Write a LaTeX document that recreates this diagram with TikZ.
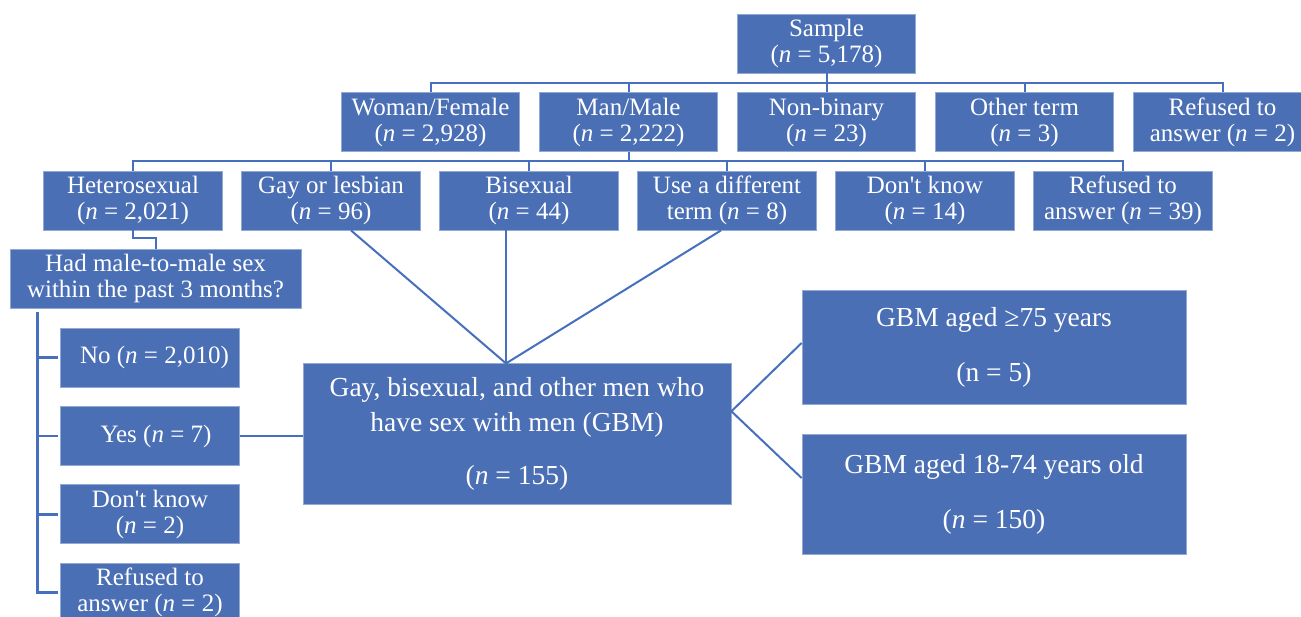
\documentclass[tikz,border=0pt]{standalone}
\usepackage{fontspec}
\setmainfont{Liberation Serif}[Ligatures=TeXOff]
\usetikzlibrary{calc}
\definecolor{boxblue}{RGB}{74,111,181}
\definecolor{lineblue}{RGB}{70,112,190}
\begin{document}
\begin{tikzpicture}[x=1pt,y=-1pt,
 box/.style={rectangle,fill=boxblue,draw=boxblue!60!white,line width=0.8pt,text=white,align=center,inner sep=0pt,font=\fontsize{25}{26}\selectfont},
 sbox/.style={box,minimum width=178.5pt,minimum height=59pt},
 lbox/.style={box,minimum width=179pt,minimum height=59pt},
 bigbox/.style={box,font=\fontsize{27.5}{35}\selectfont},
 conn/.style={draw=lineblue,line width=2pt},
 thickconn/.style={draw=lineblue,line width=2.6pt}]
\useasboundingbox (0,0) rectangle (1301,617);
\fill[white] (0,0) rectangle (1301,617);

% level 1
\node[sbox] (sample) at (826.5,43.5) {Sample\\(\textit{n} = 5,178)};
% level 2
\node[sbox] (woman) at (430.5,122) {Woman/Female\\(\textit{n} = 2,928)};
\node[sbox] (man) at (628.5,122) {Man/Male\\(\textit{n} = 2,222)};
\node[sbox] (nonbin) at (826.5,122) {Non-binary\\(\textit{n} = 23)};
\node[sbox] (other) at (1024.5,122) {Other term\\(\textit{n} = 3)};
\node[sbox] (refg) at (1222.5,122) {Refused to\\answer (\textit{n} = 2)};
% level 3
\node[sbox] (hetero) at (133,200.5) {Heterosexual\\(\textit{n} = 2,021)};
\node[sbox] (gay) at (331,200.5) {Gay or lesbian\\(\textit{n} = 96)};
\node[sbox] (bi) at (529,200.5) {Bisexual\\(\textit{n} = 44)};
\node[sbox] (usediff) at (727,200.5) {Use a different\\term (\textit{n} = 8)};
\node[sbox] (dk) at (925,200.5) {Don't know\\(\textit{n} = 14)};
\node[sbox] (refo) at (1123,200.5) {Refused to\\answer (\textit{n} = 39)};
% question
\node[box,minimum width=291pt,minimum height=59pt] (hadsex) at (155.5,278.5) {Had male-to-male sex\\within the past 3 months?};
% answers
\node[lbox] (no) at (150,357.5) {\hspace*{9pt}No (\textit{n} = 2,010)};
\node[lbox] (yes) at (150,436) {\hspace*{12pt}Yes (\textit{n} = 7)};
\node[lbox] (dkl) at (150,514.3) {Don't know\\(\textit{n} = 2)};
\node[lbox] (refl) at (150,592.5) {Refused to\\answer (\textit{n} = 2)};
% GBM
\node[bigbox,minimum width=428pt,minimum height=141pt] (gbm) at (517,434.3) {Gay, bisexual, and other men who\\have sex with men (GBM)\\[18pt](\textit{n} = 155)};
\node[bigbox,minimum width=384pt,minimum height=114pt] (old) at (994,347) {GBM aged ≥75 years\\[20pt](n = 5)};
\node[bigbox,minimum width=384pt,minimum height=120pt] (young) at (994,494) {GBM aged 18-74 years old\\[20pt](\textit{n} = 150)};

% connectors level 1 -> 2
\coordinate (bus1) at (826.5,83);
\draw[conn] (sample.south) -- (bus1);
\foreach \n in {woman,man,nonbin,other,refg} \draw[conn] (\n.north) |- (bus1);
% connectors level 2 -> 3
\coordinate (bus2) at (628.5,161.3);
\draw[conn] (man.south) -- (bus2);
\foreach \n in {hetero,gay,bi,usediff,dk,refo} \draw[conn] (\n.north) |- (bus2);
% hetero -> question
\draw[conn] (hetero.south) -- ++(0,8) -| (hadsex.north);
% question -> answers
\coordinate (vtop) at (37.5,312);
\foreach \n in {no,yes,dkl,refl} \draw[thickconn,shorten >=2.5pt] (vtop) |- (\n.west);
% yes -> gbm
\draw[conn] (yes.east) -- (yes.east -| gbm.west);
% converging lines
\coordinate (gbmtop) at ([xshift=-11pt]gbm.north);
\draw[conn] ([xshift=20pt]gay.south) -- (gbmtop);
\draw[conn] ([xshift=-23pt]bi.south) -- (gbmtop);
\draw[conn] ([xshift=-6pt]usediff.south) -- (gbmtop);
% gbm -> age groups
\coordinate (gbmr) at ([yshift=23pt]gbm.east);
\draw[conn] ([yshift=4pt]old.west) -- (gbmr) -- ([yshift=16pt]young.west);
\end{tikzpicture}
\end{document}
